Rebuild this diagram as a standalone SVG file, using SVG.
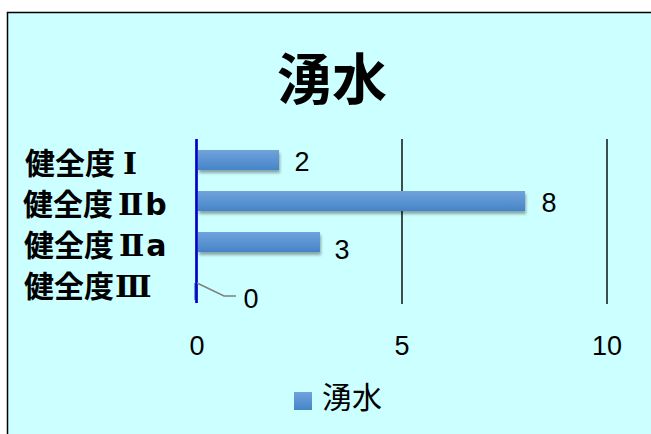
<svg xmlns="http://www.w3.org/2000/svg" width="651" height="434" viewBox="0 0 651 434">
<defs>
<linearGradient id="barGrad" x1="0" y1="0" x2="0" y2="1">
<stop offset="0" stop-color="#70A3DC"/>
<stop offset="1" stop-color="#4684C8"/>
</linearGradient>
<filter id="shadow" x="-10%" y="-30%" width="120%" height="180%">
<feGaussianBlur in="SourceAlpha" stdDeviation="1.5"/>
<feOffset dx="1" dy="3" result="b"/>
<feComponentTransfer><feFuncA type="linear" slope="0.35"/></feComponentTransfer>
<feMerge><feMergeNode/><feMergeNode in="SourceGraphic"/></feMerge>
</filter>
<style>
.cat{font-family:"Noto Sans CJK JP","Noto Sans CJK SC",sans-serif;font-weight:bold;font-size:30px;fill:#000}
.rn{font-family:"DejaVu Serif","Noto Sans CJK JP",serif;font-weight:bold}
.lt{font-family:"DejaVu Sans","Noto Sans CJK JP",sans-serif;font-weight:bold}
.num{font-family:"Liberation Sans",Arial,sans-serif;font-size:27px;fill:#000}
.grid{stroke:#000;stroke-width:1.4}
.bar{fill:url(#barGrad);filter:url(#shadow)}
</style>
</defs>
<rect x="0" y="0" width="651" height="434" fill="#FFFFFF"/>
<rect id="frame" x="7.5" y="12.5" width="700" height="500" fill="#CCFFFF" stroke="#000" stroke-width="1.5"/>
<g id="title">
<text x="332" y="99" text-anchor="middle" font-family="'Noto Sans CJK JP','Noto Sans CJK SC',sans-serif" font-weight="bold" font-size="55">湧水</text>
</g>
<g id="gridlines">
<line class="grid" x1="402" y1="139" x2="402" y2="304"/>
<line class="grid" x1="607" y1="139" x2="607" y2="304"/>
</g>
<g id="bars">
<g id="bar-I"><rect class="bar" x="198" y="150" width="81" height="20"/></g>
<g id="bar-IIb"><rect class="bar" x="198" y="191" width="327" height="20"/></g>
<g id="bar-IIa"><rect class="bar" x="198" y="232" width="122" height="20"/></g>
<g id="bar-III"><rect x="194" y="283" width="2" height="17" fill="#6A9FD8"/></g>
</g>
<g id="axis">
<line x1="196.5" y1="139" x2="196.5" y2="303" stroke="#0000CC" stroke-width="2.7"/>
</g>
<g id="connectors">
<polyline points="197,283 224,296 236,296" fill="none" stroke="#808080" stroke-width="1.5"/>
</g>
<g id="categories">
<text class="cat" x="25" y="174">健全度<tspan class="rn" dx="8">Ⅰ</tspan></text>
<text class="cat" x="23" y="215">健全度<tspan class="rn" dx="5">Ⅱ</tspan><tspan class="lt" dx="2">b</tspan></text>
<text class="cat" x="24" y="256">健全度<tspan class="rn" dx="5">Ⅱ</tspan><tspan class="lt" dx="2">a</tspan></text>
<text class="cat" x="24" y="297">健全度<tspan class="rn" dx="1">Ⅲ</tspan></text>
</g>
<g id="values">
<text class="num" x="302" y="171" text-anchor="middle">2</text>
<text class="num" x="549" y="212" text-anchor="middle">8</text>
<text class="num" x="342" y="259" text-anchor="middle">3</text>
<text class="num" x="251" y="308" text-anchor="middle">0</text>
</g>
<g id="axis-labels">
<text class="num" x="197" y="355" text-anchor="middle">0</text>
<text class="num" x="402" y="355" text-anchor="middle">5</text>
<text class="num" x="607" y="355" text-anchor="middle">10</text>
</g>
<g id="legend">
<rect x="294" y="392" width="18" height="18" fill="url(#barGrad)"/>
<text x="322" y="408" font-family="'Noto Sans CJK JP','Noto Sans CJK SC',sans-serif" font-size="30" fill="#000">湧水</text>
</g>
</svg>
